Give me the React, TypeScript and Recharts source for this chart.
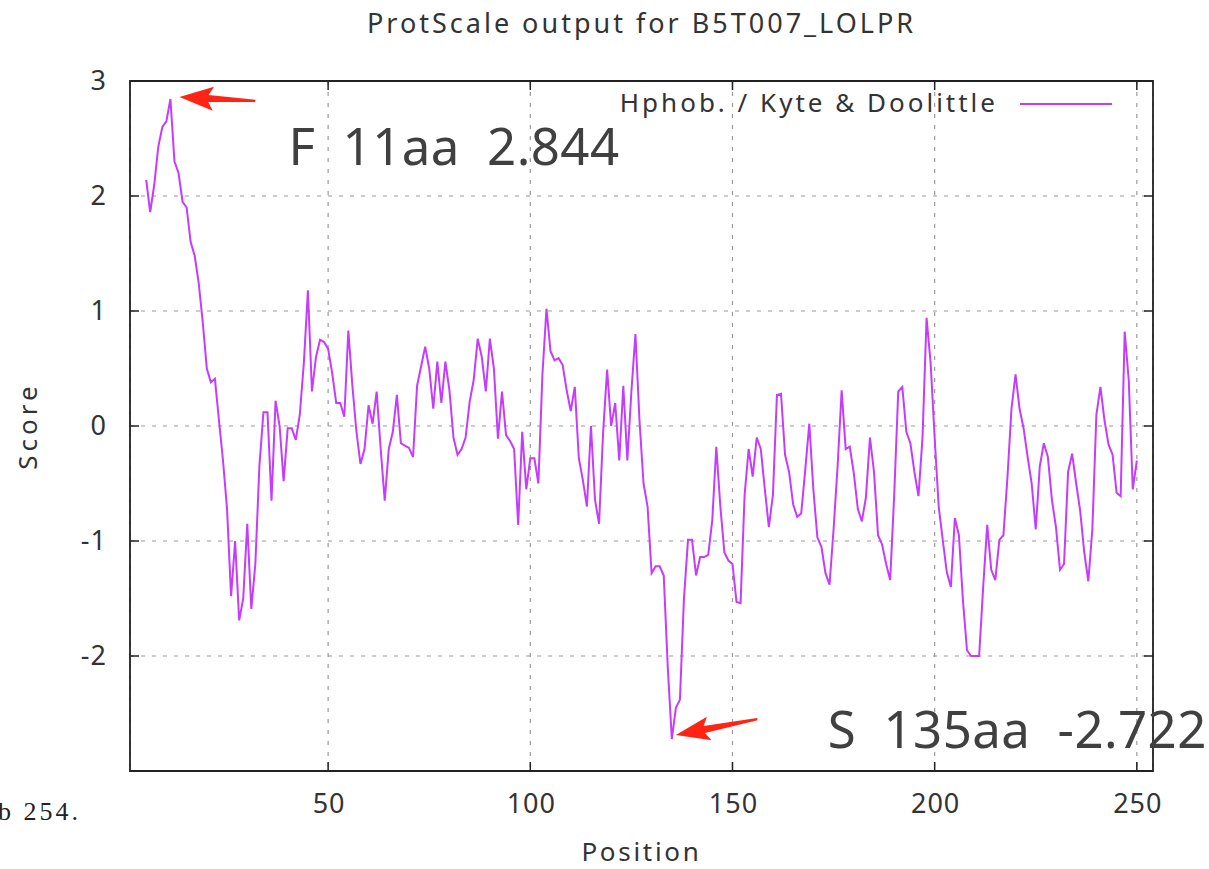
import {
  LineChart,
  Line,
  XAxis,
  YAxis,
  CartesianGrid,
  ReferenceArea,
  ReferenceDot,
  Legend,
} from 'recharts';

// ProtScale output, window 9 -> scores from position 5 to 250
const START_POS = 5;
const scores = [
  2.14, 1.86, 2.1, 2.43, 2.6, 2.65, 2.844, 2.3, 2.2, 1.95, 1.9, 1.6, 1.48, 1.24, 0.9, 0.5, 0.38, 0.41, 0.05, -0.3,
  -0.72, -1.48, -1.0, -1.69, -1.5, -0.85, -1.59, -1.2, -0.35, 0.12, 0.12, -0.65, 0.22, 0.0, -0.48, -0.02, -0.02, -0.12, 0.1, 0.55,
  1.18, 0.3, 0.6, 0.75, 0.73, 0.67, 0.46, 0.2, 0.2, 0.08, 0.83, 0.35, -0.05, -0.33, -0.2, 0.18, 0.02, 0.3, -0.2, -0.65,
  -0.2, -0.05, 0.27, -0.15, -0.17, -0.19, -0.27, 0.35, 0.52, 0.69, 0.5, 0.15, 0.56, 0.2, 0.56, 0.31, -0.1, -0.25, -0.2, -0.1,
  0.21, 0.4, 0.76, 0.6, 0.3, 0.76, 0.5, -0.11, 0.3, -0.08, -0.13, -0.2, -0.86, -0.05, -0.55, -0.28, -0.28, -0.5, 0.45, 1.02,
  0.65, 0.57, 0.59, 0.53, 0.31, 0.13, 0.34, -0.28, -0.47, -0.7, 0.0, -0.64, -0.85, -0.06, 0.49, 0.0, 0.2, -0.3, 0.35, -0.3,
  0.3, 0.8, 0.05, -0.5, -0.7, -1.28, -1.22, -1.22, -1.3, -2.1, -2.722, -2.45, -2.38, -1.5, -0.99, -0.99, -1.3, -1.14, -1.14, -1.12,
  -0.82, -0.18, -0.7, -1.1, -1.17, -1.2, -1.53, -1.54, -0.6, -0.2, -0.44, -0.1, -0.2, -0.55, -0.88, -0.6, 0.27, 0.28, -0.25, -0.4,
  -0.68, -0.79, -0.76, -0.38, 0.02, -0.55, -0.97, -1.05, -1.28, -1.38, -0.9, -0.35, 0.31, -0.2, -0.18, -0.41, -0.72, -0.83, -0.62, -0.1,
  -0.4, -0.95, -1.03, -1.2, -1.34, -0.6, 0.3, 0.34, -0.05, -0.15, -0.4, -0.61, -0.1, 0.94, 0.55, -0.1, -0.7, -0.99, -1.27, -1.4,
  -0.8, -0.95, -1.52, -1.95, -2.0, -2.0, -2.0, -1.4, -0.86, -1.25, -1.34, -0.99, -0.95, -0.45, 0.15, 0.45, 0.15, -0.02, -0.27, -0.5,
  -0.9, -0.35, -0.15, -0.27, -0.64, -0.88, -1.25, -1.2, -0.4, -0.24, -0.5, -0.74, -1.1, -1.35, -0.9, 0.1, 0.34, 0.05, -0.16, -0.25,
  -0.58, -0.61, 0.82, 0.4, -0.55, -0.3,
];

const xTicks = [50, 100, 150, 200, 250];
const yTicks = [3, 2, 1, 0, -1, -2];
const xDomain = [1, 254];
const yDomain = [-3, 3];

const peak = { pos: 11, score: 2.844, label: 'F  11aa  2.844' };
const trough = { pos: 135, score: -2.722, label: 'S  135aa  -2.722' };

const data = scores.map((s, i) => ({ pos: START_POS + i, score: s }));

const W = 1209;
const H = 869;
const MARGIN = { top: 81, right: 56, bottom: 0, left: 0 };
const Y_W = 130;
const X_H = 98;
const PLOT_TOP = MARGIN.top;
const PLOT_BOTTOM = H - X_H;
const PLOT_LEFT = Y_W;
const PLOT_RIGHT = W - MARGIN.right;
const TICK = 9;

const LINE = '#c63cff';
const AXIS = '#222';
const TXT = '#333';
const FONT = '"Noto Sans", "Open Sans", sans-serif';

const XTick = ({ x, payload }: any) => (
  <g>
    <line x1={x} x2={x} y1={PLOT_BOTTOM} y2={PLOT_BOTTOM - TICK} stroke={AXIS} strokeWidth={1.5} />
    <line x1={x} x2={x} y1={PLOT_TOP} y2={PLOT_TOP + TICK} stroke={AXIS} strokeWidth={1.5} />
    <text x={x + 1} y={PLOT_BOTTOM + 42} textAnchor="middle" fontSize={27} letterSpacing={1} fontFamily={FONT} fill={TXT}>
      {payload.value}
    </text>
  </g>
);

const YTick = ({ y, payload }: any) => (
  <g>
    <line x1={PLOT_LEFT} x2={PLOT_LEFT + TICK} y1={y} y2={y} stroke={AXIS} strokeWidth={1.5} />
    <line x1={PLOT_RIGHT} x2={PLOT_RIGHT - TICK} y1={y} y2={y} stroke={AXIS} strokeWidth={1.5} />
    <text x={PLOT_LEFT - 23} y={y + 9} textAnchor="end" fontSize={27} letterSpacing={1} fontFamily={FONT} fill={TXT}>
      {payload.value}
    </text>
  </g>
);

// red hand-drawn style arrow, tip at (tx,ty), tail going off at `angle`
const Arrow = ({ tx, ty, angle, len }: any) => (
  <path
    d={`M0,0 L34,-12 L29,-3.5 L${len},-1.2 L${len},1.2 L29,3.5 L34,12 Z`}
    transform={`translate(${tx},${ty}) rotate(${angle})`}
    fill="#ff2414"
  />
);

const annotation = (label: string, arrow: any, text: any) => (props: any) => {
  const { cx, cy } = props;
  return (
    <g>
      <Arrow tx={cx + arrow.dx} ty={cy + arrow.dy} angle={arrow.angle} len={arrow.len} />
      <text
        x={cx + text.dx}
        y={cy + text.dy}
        fontSize={51}
        letterSpacing={0.4}
        fontFamily={FONT}
        fill="#404040"
        style={{ whiteSpace: 'pre' }}
      >
        {label}
      </text>
    </g>
  );
};

export default function App() {
  return (
    <div style={{ position: 'absolute', left: 0, top: 0, width: W, height: H, background: '#fff', fontFamily: FONT }}>
      <div
        style={{
          position: 'absolute',
          top: 4,
          left: PLOT_LEFT,
          width: PLOT_RIGHT - PLOT_LEFT,
          textAlign: 'center',
          fontSize: 27,
          letterSpacing: 3,
          color: TXT,
        }}
      >
        ProtScale output for B5T007_LOLPR
      </div>
      <div
        style={{
          position: 'absolute',
          top: 797,
          left: -2,
          fontSize: 26,
          fontFamily: '"Liberation Serif", serif',
          letterSpacing: 3,
          color: '#222',
        }}
      >
        b 254.
      </div>
      <LineChart width={W} height={H} data={data} margin={MARGIN}>
        <CartesianGrid stroke="#9a9a9a" strokeDasharray="4 7" strokeWidth={1.2} />
        <XAxis
          type="number"
          dataKey="pos"
          domain={xDomain}
          ticks={xTicks}
          height={X_H}
          tickSize={0}
          tickLine={false}
          axisLine={false}
          tick={XTick}
          label={() => (
            <text
              x={(PLOT_LEFT + PLOT_RIGHT) / 2}
              y={861}
              textAnchor="middle"
              fontSize={26}
              letterSpacing={2.7}
              fontFamily={FONT}
              fill={TXT}
            >
              Position
            </text>
          )}
        />
        <YAxis
          type="number"
          domain={yDomain}
          ticks={yTicks}
          width={Y_W}
          tickSize={0}
          tickLine={false}
          axisLine={false}
          tick={YTick}
          label={() => (
            <text
              x={27}
              y={(PLOT_TOP + PLOT_BOTTOM) / 2}
              transform={`rotate(-90, 27, ${(PLOT_TOP + PLOT_BOTTOM) / 2})`}
              textAnchor="middle"
              dominantBaseline="central"
              fontSize={26}
              letterSpacing={4}
              fontFamily={FONT}
              fill={TXT}
            >
              Score
            </text>
          )}
        />
        <ReferenceArea
          x1={xDomain[0]}
          x2={xDomain[1]}
          y1={yDomain[0]}
          y2={yDomain[1]}
          fill="none"
          stroke={AXIS}
          strokeWidth={1.8}
        />
        <Legend
          layout="vertical"
          align="center"
          verticalAlign="middle"
          wrapperStyle={{ position: 'absolute', left: 600, top: 84, width: 520, height: 40 }}
          content={() => (
            <svg width={520} height={40}>
              <text x={398} y={28} textAnchor="end" fontSize={26} letterSpacing={3} fontFamily={FONT} fill={TXT}>
                {'Hphob. / Kyte & Doolittle'}
              </text>
              <line x1={420} x2={512} y1={20} y2={20} stroke={LINE} strokeWidth={2} />
            </svg>
          )}
        />
        <Line
          type="linear"
          dataKey="score"
          name="Hphob. / Kyte & Doolittle"
          stroke={LINE}
          strokeWidth={2}
          dot={false}
          isAnimationActive={false}
        />
        <ReferenceDot
          x={peak.pos}
          y={peak.score}
          r={1}
          shape={annotation(peak.label, { dx: 9, dy: -2, angle: 3, len: 76 }, { dx: 118, dy: 66 })}
        />
        <ReferenceDot
          x={trough.pos}
          y={trough.score}
          r={1}
          shape={annotation(trough.label, { dx: 4, dy: -4, angle: -11, len: 83 }, { dx: 156, dy: 9 })}
        />
      </LineChart>
    </div>
  );
}
